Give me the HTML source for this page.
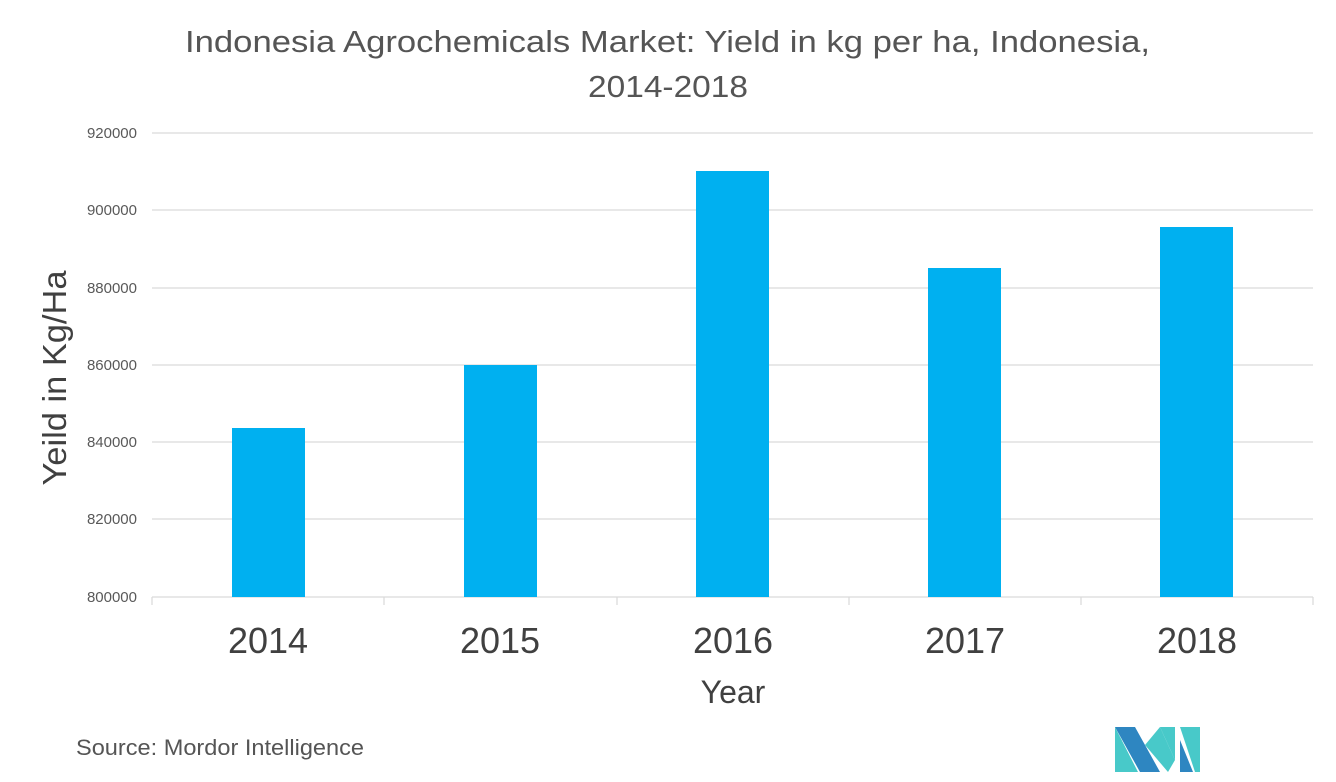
<!DOCTYPE html>
<html><head><style>
body{margin:0;width:1336px;height:777px;background:#fff;overflow:hidden;font-family:"Liberation Sans",sans-serif}
</style></head><body>
<svg width="1336" height="777" xmlns="http://www.w3.org/2000/svg">
<g font-family="Liberation Sans, sans-serif">
<text x="185" y="52" font-size="31" fill="#555" textLength="965" lengthAdjust="spacingAndGlyphs">Indonesia Agrochemicals Market: Yield in kg per ha, Indonesia,</text>
<text x="588" y="97" font-size="31" fill="#555" textLength="160" lengthAdjust="spacingAndGlyphs">2014-2018</text>
<g stroke="#d9d9d9" stroke-width="1.2">
<line x1="152" y1="133" x2="1313" y2="133"/>
<line x1="152" y1="210" x2="1313" y2="210"/>
<line x1="152" y1="288" x2="1313" y2="288"/>
<line x1="152" y1="365" x2="1313" y2="365"/>
<line x1="152" y1="442" x2="1313" y2="442"/>
<line x1="152" y1="519" x2="1313" y2="519"/>
<line x1="152" y1="597" x2="1313" y2="597"/>
<line x1="152" y1="597" x2="152" y2="605"/>
<line x1="384" y1="597" x2="384" y2="605"/>
<line x1="617" y1="597" x2="617" y2="605"/>
<line x1="849" y1="597" x2="849" y2="605"/>
<line x1="1081" y1="597" x2="1081" y2="605"/>
<line x1="1313" y1="597" x2="1313" y2="605"/>
</g>
<g font-size="15" fill="#595959" text-anchor="end">
<text x="137" y="138">920000</text>
<text x="137" y="215">900000</text>
<text x="137" y="293">880000</text>
<text x="137" y="370">860000</text>
<text x="137" y="447">840000</text>
<text x="137" y="524">820000</text>
<text x="137" y="602">800000</text>
</g>
<g fill="#00b0f0">
<rect x="232" y="428" width="73" height="169"/>
<rect x="464" y="365" width="73" height="232"/>
<rect x="696" y="171" width="73" height="426"/>
<rect x="928" y="268" width="73" height="329"/>
<rect x="1160" y="227" width="73" height="370"/>
</g>
<g font-size="36" fill="#404040" text-anchor="middle">
<text x="268" y="653">2014</text>
<text x="500" y="653">2015</text>
<text x="733" y="653">2016</text>
<text x="965" y="653">2017</text>
<text x="1197" y="653">2018</text>
</g>
<text x="733" y="703" text-anchor="middle" font-size="32" fill="#404040">Year</text>
<text transform="translate(66,378) rotate(-90)" text-anchor="middle" font-size="33" fill="#404040" textLength="215" lengthAdjust="spacingAndGlyphs">Yeild in Kg/Ha</text>
<text x="76" y="755" font-size="22" fill="#555" textLength="288" lengthAdjust="spacingAndGlyphs">Source: Mordor Intelligence</text>
<g>
<polygon points="1115,727 1135,727 1160,772 1140,772" fill="#2e86c1"/>
<polygon points="1115,727 1115,772 1138,772" fill="#48c9c9"/>
<polygon points="1160,727 1175,727 1175,760" fill="#48c9c9"/>
<polygon points="1145,745 1160,727 1175,760 1168,772" fill="#48c9c9"/>
<polygon points="1180,727 1200,727 1200,772 1195,772" fill="#48c9c9"/>
<polygon points="1180,740 1193,772 1180,772" fill="#2e86c1"/>
</g>
</g>
</svg>
</body></html>
